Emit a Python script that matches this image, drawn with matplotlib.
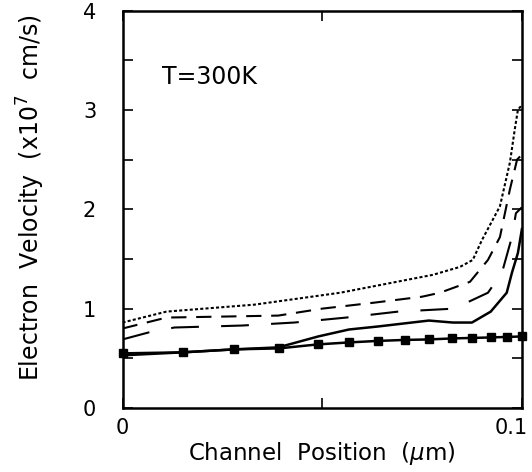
import matplotlib
matplotlib.use("Agg")
import matplotlib.pyplot as plt
import matplotlib.transforms as mtransforms

plt.rcParams['font.family'] = ['DejaVu Sans']
plt.rcParams['lines.scale_dashes'] = False
plt.rcParams['mathtext.fontset'] = 'dejavusans'

# Data (channel position in um, velocity in 1e7 cm/s)
sq_x = [0, 0.0151, 0.0279, 0.0392, 0.0489, 0.0567, 0.0639, 0.0707, 0.0767, 0.0825, 0.0875, 0.0922, 0.0962, 0.1]
sq_y = [0.55, 0.56, 0.59, 0.60, 0.64, 0.66, 0.675, 0.685, 0.69, 0.70, 0.705, 0.71, 0.715, 0.72]

solid_x = [0, 0.015, 0.028, 0.039, 0.049, 0.0567, 0.0639, 0.0767, 0.0827, 0.0875, 0.0922, 0.0962, 0.0975, 0.099, 0.1]
solid_y = [0.53, 0.56, 0.59, 0.61, 0.72, 0.79, 0.82, 0.88, 0.86, 0.86, 0.97, 1.16, 1.36, 1.56, 1.80]

long_x = [0, 0.0065, 0.013, 0.03, 0.043, 0.056, 0.069, 0.083, 0.0915, 0.095, 0.0975, 0.0985, 0.1]
long_y = [0.69, 0.76, 0.81, 0.83, 0.86, 0.91, 0.97, 1.00, 1.16, 1.36, 1.72, 1.96, 2.02]

med_x = [0, 0.011, 0.039, 0.05, 0.063, 0.075, 0.0795, 0.087, 0.0915, 0.0945, 0.097, 0.0988, 0.1]
med_y = [0.80, 0.91, 0.93, 1.00, 1.06, 1.12, 1.16, 1.27, 1.49, 1.72, 2.20, 2.50, 2.55]

dot_x = [0, 0.011, 0.033, 0.0545, 0.0777, 0.0845, 0.0877, 0.090, 0.0945, 0.097, 0.0982, 0.099, 0.1]
dot_y = [0.86, 0.97, 1.04, 1.16, 1.34, 1.42, 1.49, 1.69, 2.03, 2.47, 2.80, 3.00, 3.05]

fig = plt.figure(figsize=(5.32, 4.72), dpi=100)
ax = fig.add_axes([0.2303, 0.1356, 0.7507, 0.8421])

ax.plot(dot_x, dot_y, color='black', lw=1.5, dashes=(2.2, 1.6))
ax.plot(med_x, med_y, color='black', lw=1.5, dashes=(11, 7))
ax.plot(long_x, long_y, color='black', lw=1.5, dashes=(20, 16))
ax.plot(solid_x, solid_y, color='black', lw=1.8)
ax.plot(sq_x, sq_y, color='black', lw=1.8, marker='s', ms=6, clip_on=False)

ax.set_xlim(0, 0.1)
ax.set_ylim(0, 4)
ax.set_xticks([0, 0.05, 0.1])
ax.set_xticklabels(['0', '', '0.1'])
ax.set_yticks([0, 1, 2, 3, 4])
ax.set_yticklabels(['0', '1', '2', '3', '4'])
ax.set_yticks([0.5, 1.5, 2.5, 3.5], minor=True)
ax.tick_params(axis='both', which='both', direction='in', top=True, right=True,
               width=1.2, labelsize=15)
ax.tick_params(axis='both', which='major', length=7)
ax.tick_params(axis='both', which='minor', length=7)
ax.tick_params(axis='y', pad=19)
ax.tick_params(axis='x', pad=7)
for s in ax.spines.values():
    s.set_linewidth(1.8)

lbls = ax.get_xticklabels()
lbls[-1].set_horizontalalignment('right')
lbls[-1].set_transform(lbls[-1].get_transform() + mtransforms.ScaledTranslation(6/100, 0, fig.dpi_scale_trans))

ax.text(0.0099, 3.33, 'T=300K', fontsize=17, va='center', ha='left')

ax.set_xlabel(r'Channel  Position  ($\mu$m)', fontsize=16.5, labelpad=2)
ax.set_ylabel(r'Electron  Velocity  (x10$^7$  cm/s)', fontsize=17)
ax.yaxis.set_label_coords(-0.19, 0.53)

fig.savefig('out.png', dpi=100)
